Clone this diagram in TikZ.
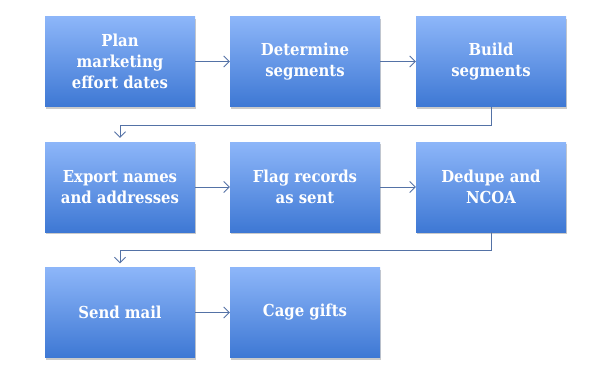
\documentclass[tikz,border=0pt]{standalone}
\usepackage{fontspec}
\setmainfont{DejaVu Serif}
\newfontfamily\boxfont{DejaVu Serif Condensed}
\usetikzlibrary{shadows,arrows.meta}
\definecolor{btop}{HTML}{8DB6F9}
\definecolor{bbot}{HTML}{3E78D4}
\definecolor{lnc}{HTML}{5472A6}
\tikzset{
  stepbox/.style={minimum width=150pt,minimum height=90pt,inner sep=2pt,
    top color=btop,bottom color=bbot,draw=none,
    text=white,align=center,font=\boxfont\bfseries\fontsize{16.5}{21}\selectfont,
    drop shadow={shadow xshift=0.5pt,shadow yshift=-2pt,opacity=0.35,fill=black!60}},
  conn/.style={draw=lnc,line width=0.8pt,-{Straight Barb[length=5.5pt,width=11pt,line width=0.8pt]}}
}
\begin{document}
\begin{tikzpicture}[x=1pt,y=-1pt]
\useasboundingbox (0,0) rectangle (600,368);
\node[stepbox] (a) at (120,61.5) {Plan\\marketing\\effort dates};
\node[stepbox] (b) at (305,61.5) {Determine\\segments};
\node[stepbox] (c) at (491,61.5) {Build\\segments};
\node[stepbox] (d) at (120,187) {Export names\\and addresses};
\node[stepbox] (e) at (305,187) {Flag records\\as sent};
\node[stepbox] (f) at (491,187) {Dedupe and\\NCOA};
\node[stepbox] (g) at (120,312.5) {Send mail};
\node[stepbox] (h) at (305,312.5) {Cage gifts};
\coordinate (c1) at (491,125);
\coordinate (c2) at (120,125);
\coordinate (f1) at (491,250);
\coordinate (f2) at (120,250);
\draw[conn] (a) -- (b);
\draw[conn] (b) -- (c);
\draw[conn] (d) -- (e);
\draw[conn] (e) -- (f);
\draw[conn] (g) -- (h);
\draw[conn] (c.south) -- (c1) -- (c2) -- ([yshift=4pt]d.north);
\draw[conn] (f.south) -- (f1) -- (f2) -- ([yshift=4pt]g.north);
\end{tikzpicture}
\end{document}
